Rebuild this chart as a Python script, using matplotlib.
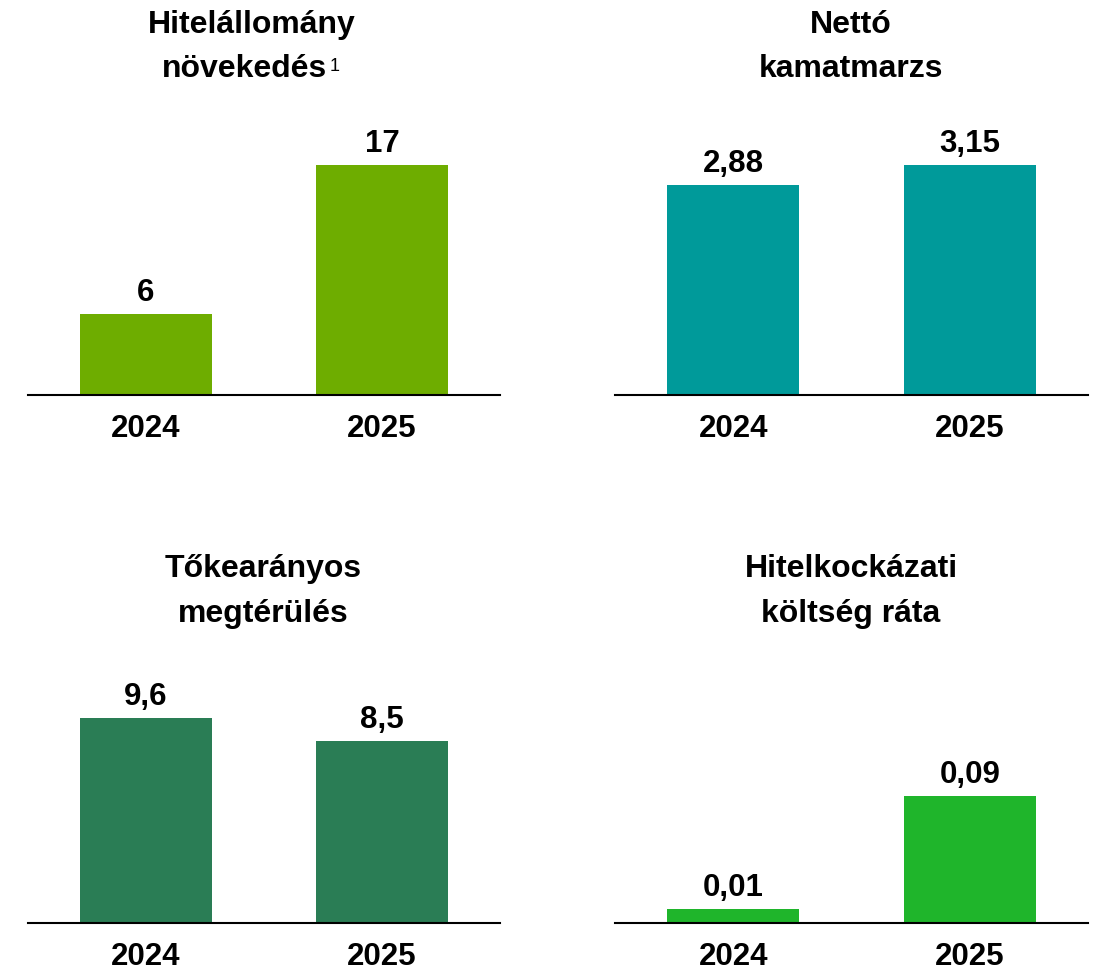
import matplotlib
matplotlib.use('Agg')
import matplotlib.pyplot as plt

plt.rcParams['font.family'] = ['Liberation Sans', 'DejaVu Sans']

# --- data ---
years = ['2024', '2025']
loan_growth = [6, 17]
net_interest_margin = [2.88, 3.15]
roe = [9.6, 8.5]
cost_of_risk = [0.01, 0.09]

loan_labels = ['6', '17']
nim_labels = ['2,88', '3,15']
roe_labels = ['9,6', '8,5']
cor_labels = ['0,01', '0,09']

W, H = 1100, 971
fig = plt.figure(figsize=(W / 100, H / 100), dpi=100)


def px_axes(left, right, base, top):
    # pixel box (origin top-left) -> figure fraction
    return fig.add_axes([left / W, 1 - base / H, (right - left) / W, (base - top) / H])


def panel(box, values, labels, color, top_bar_px):
    left, right, base, top = box
    ax = px_axes(left, right, base, top)
    x = range(len(values))
    ax.bar(x, values, width=0.56, color=color, zorder=2)
    # scale so the tallest bar reaches the same pixel height as in the reference
    ax.set_ylim(0, max(values) * (base - top) / top_bar_px)
    ax.set_xlim(-0.5, 1.5)
    for xi, v, lab in zip(x, values, labels):
        ax.annotate(lab, (xi, v), xytext=(0, 9.4), textcoords='offset points',
                    ha='center', va='baseline', fontsize=22.5, fontweight='bold')
    ax.set_xticks(list(x))
    ax.set_xticklabels(years, fontsize=22.5, fontweight='bold')
    ax.tick_params(axis='x', length=0, pad=14)
    ax.set_yticks([])
    for s in ['top', 'left', 'right']:
        ax.spines[s].set_visible(False)
    ax.spines['bottom'].set_linewidth(1.5)
    ax.spines['bottom'].set_zorder(3)
    return ax


panel((28, 500, 395, 100), loan_growth, loan_labels, '#6EAD00', 230)
panel((615, 1088, 395, 100), net_interest_margin, nim_labels, '#009A9A', 230)
panel((28, 500, 923, 628), roe, roe_labels, '#2A7D55', 205)
panel((615, 1088, 923, 628), cost_of_risk, cor_labels, '#1FB52B', 127)


def title(xc, y_px, txt):
    fig.text(xc / W, 1 - y_px / H, txt, ha='center', va='baseline',
             fontsize=23, fontweight='bold')


title(252, 33, 'Hitelállomány')
title(245, 77, 'növekedés')
fig.text(330 / W, 1 - 71 / H, '1', ha='left', va='baseline', fontsize=13)
title(851, 33, 'Nettó')
title(851, 77, 'kamatmarzs')
title(263, 577, 'Tőkearányos')
title(263, 622, 'megtérülés')
title(851, 577, 'Hitelkockázati')
title(851, 622, 'költség ráta')

fig.savefig('out.png', dpi=100)
